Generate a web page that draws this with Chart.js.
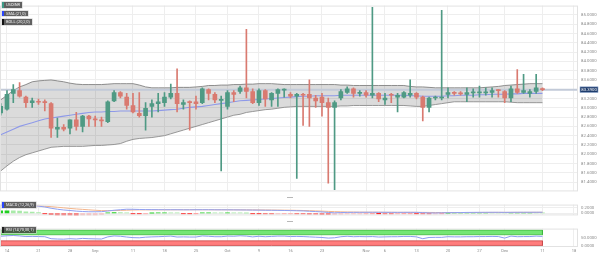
<!DOCTYPE html>
<html>
<head>
<meta charset="utf-8">
<script src="https://cdn.jsdelivr.net/npm/chart.js@4.4.0/dist/chart.umd.min.js"></script>
<style>
  html, body { margin: 0; padding: 0; background: #fff; }
  #wrap { position: relative; width: 600px; height: 254px; overflow: hidden; font-family: Roboto, "Liberation Sans", sans-serif; }
  canvas { position: absolute; left: 0; }
  .tag { position: absolute; left: 2px; height: 5.5px; line-height: 5.6px; font-size: 4px; color: #f0f0f0;
         background: rgba(62, 62, 62, 0.82); padding: 0 2px; border-left: 2px solid #444;
         box-shadow: 0 0 0 0.6px #d0d0d0; white-space: nowrap; }
  .grip { position: absolute; left: 287px; width: 6px; height: 1.4px; background: #b8b8b8; }
</style>
</head>
<body>
<div id="wrap">
  <canvas id="main" width="600" height="197" style="top:0"></canvas>
  <canvas id="macd" width="600" height="22" style="top:199px"></canvas>
  <canvas id="rsi" width="600" height="31" style="top:223px"></canvas>
  <div class="tag" style="top:2px;border-left-color:#3d9a86">USDINR</div>
  <div class="tag" style="top:10.5px;border-left-color:#2b46ff">SMA (21,0)</div>
  <div class="tag" style="top:19px;border-left-color:#111">BOLL (20,2,0)</div>
  <div class="tag" style="top:202px;border-left-color:#2b46ff">MACD (12,26,9)</div>
  <div class="tag" style="top:227px;border-left-color:#222">RSI (14,70,30,1)</div>
  <div class="grip" style="top:196.5px"></div>
  <div class="grip" style="top:221px"></div>
</div>
<script>
// daily candles, Aug 11 -> Dec 11 (index 0 = Aug 11)
const open = [82.89, 82.97, 83.31, 83.37, 83.23, 83.11, 83.13, 83.13, 83.09, 82.54,
  82.58, 82.56, 82.74, 82.60, 82.82, 82.76, 82.74, 82.70, 83.15, 83.33,
  83.23, 83.05, 82.88, 82.83, 83.03, 83.09, 83.11, 83.23, 83.31, 83.07,
  83.12, 83.13, 83.11, 83.39, 83.29, 83.16, 83.03, 83.33, 83.35, 83.43,
  83.35, 83.11, 83.37, 83.17, 83.31, 83.38, 83.29, 83.25, 83.29, 83.29,
  83.21, 83.23, 83.11, 83.01, 83.21, 83.33, 83.41, 83.31, 83.33, 83.27,
  83.31, 83.17, 83.29, 83.23, 83.23, 83.27, 83.31, 83.23, 83.01, 83.21,
  83.21, 83.29, 83.33, 83.32, 83.29, 83.32, 83.32, 83.32, 83.33, 83.38,
  83.35, 83.21, 83.41, 83.33, 83.31, 83.35, 83.41];
const high = [83.09, 83.37, 83.50, 83.54, 83.25, 83.21, 83.19, 83.17, 83.11, 82.78,
  82.64, 82.74, 82.90, 82.84, 82.84, 82.82, 82.80, 83.15, 83.37, 83.35,
  83.31, 83.31, 83.33, 83.11, 83.17, 83.31, 83.33, 83.51, 83.84, 83.17,
  83.15, 83.25, 83.43, 83.41, 83.33, 83.25, 83.37, 83.37, 83.47, 84.69,
  83.41, 83.41, 83.39, 83.33, 83.41, 83.41, 83.33, 83.31, 83.31, 83.60,
  83.27, 83.31, 83.21, 83.15, 83.39, 83.45, 83.43, 83.37, 83.37, 85.16,
  83.33, 83.31, 83.31, 83.31, 83.35, 83.60, 83.33, 83.25, 83.23, 83.25,
  85.10, 83.43, 83.35, 83.35, 83.43, 83.41, 83.47, 83.43, 83.43, 83.39,
  83.37, 83.47, 83.82, 83.72, 83.39, 83.72, 83.43];
const low = [82.84, 82.95, 83.11, 83.23, 83.01, 83.01, 83.07, 82.93, 82.36, 82.36,
  82.50, 82.44, 82.52, 82.48, 82.60, 82.60, 82.60, 82.68, 83.13, 83.21,
  82.97, 82.89, 82.80, 82.52, 82.80, 82.91, 83.03, 83.19, 82.91, 82.97,
  82.52, 82.97, 83.09, 83.17, 83.11, 81.64, 82.97, 83.13, 83.31, 83.21,
  83.09, 83.05, 83.03, 83.03, 83.03, 83.23, 83.21, 81.48, 82.62, 82.60,
  83.01, 82.82, 81.38, 81.24, 83.17, 83.31, 83.23, 83.25, 83.23, 83.21,
  83.13, 83.07, 83.11, 82.91, 83.21, 83.23, 83.19, 82.72, 82.91, 83.17,
  83.17, 83.21, 83.27, 83.27, 83.13, 83.23, 83.23, 83.27, 83.23, 83.23,
  83.11, 83.13, 83.31, 83.31, 83.23, 83.31, 83.37];
const close = [83.03, 83.29, 83.39, 83.25, 83.11, 83.15, 83.12, 83.11, 82.56, 82.58,
  82.54, 82.74, 82.60, 82.82, 82.76, 82.74, 82.72, 83.13, 83.33, 83.25,
  83.05, 82.91, 82.83, 82.99, 83.09, 83.13, 83.23, 83.31, 83.09, 83.11,
  83.11, 83.09, 83.41, 83.31, 83.17, 83.18, 83.33, 83.29, 83.43, 83.35,
  83.11, 83.37, 83.19, 83.31, 83.39, 83.39, 83.25, 83.29, 83.27, 83.21,
  83.15, 83.11, 83.01, 83.11, 83.35, 83.41, 83.31, 83.33, 83.27, 83.31,
  83.19, 83.21, 83.27, 83.27, 83.33, 83.31, 83.23, 83.01, 83.21, 83.23,
  83.23, 83.33, 83.31, 83.30, 83.33, 83.33, 83.33, 83.34, 83.37, 83.37,
  83.21, 83.41, 83.33, 83.37, 83.35, 83.43, 83.39];

const sma21 = [82.42, 82.48, 82.54, 82.60, 82.64, 82.68, 82.72, 82.76, 82.78, 82.80,
  82.82, 82.84, 82.86, 82.88, 82.90, 82.91, 82.91, 82.92, 82.92, 82.93,
  82.93, 82.93, 82.93, 82.93, 82.93, 82.94, 82.95, 82.96, 82.97, 82.99,
  83.01, 83.02, 83.03, 83.05, 83.07, 83.09, 83.11, 83.13, 83.15, 83.16,
  83.17, 83.18, 83.19, 83.20, 83.21, 83.22, 83.23, 83.24, 83.25, 83.25,
  83.26, 83.26, 83.26, 83.26, 83.27, 83.27, 83.27, 83.27, 83.27, 83.27,
  83.27, 83.27, 83.27, 83.27, 83.27, 83.26, 83.26, 83.25, 83.25, 83.25,
  83.25, 83.26, 83.26, 83.27, 83.27, 83.27, 83.28, 83.28, 83.29, 83.29,
  83.29, 83.30, 83.30, 83.31, 83.31, 83.31, 83.31];
const bollUpper = [83.17, 83.27, 83.37, 83.45, 83.50, 83.56, 83.58, 83.59, 83.60, 83.58,
  83.56, 83.53, 83.51, 83.50, 83.50, 83.50, 83.50, 83.51, 83.52, 83.52,
  83.52, 83.52, 83.49, 83.45, 83.43, 83.43, 83.43, 83.43, 83.44, 83.44,
  83.44, 83.45, 83.46, 83.48, 83.48, 83.49, 83.49, 83.50, 83.50, 83.51,
  83.51, 83.52, 83.52, 83.52, 83.51, 83.50, 83.50, 83.50, 83.50, 83.50,
  83.50, 83.50, 83.50, 83.50, 83.49, 83.49, 83.48, 83.48, 83.48, 83.48,
  83.48, 83.48, 83.48, 83.48, 83.48, 83.46, 83.45, 83.45, 83.44, 83.43,
  83.43, 83.43, 83.43, 83.43, 83.43, 83.43, 83.43, 83.44, 83.45, 83.46,
  83.48, 83.49, 83.50, 83.51, 83.52, 83.52, 83.52];
const bollLower = [81.64, 81.75, 81.85, 81.93, 81.99, 82.03, 82.07, 82.11, 82.15, 82.16,
  82.17, 82.17, 82.17, 82.17, 82.18, 82.19, 82.19, 82.20, 82.21, 82.23,
  82.28, 82.32, 82.34, 82.35, 82.36, 82.38, 82.40, 82.44, 82.48, 82.52,
  82.56, 82.60, 82.64, 82.68, 82.72, 82.76, 82.80, 82.84, 82.86, 82.90,
  82.92, 82.94, 82.96, 82.97, 82.99, 83.01, 83.02, 83.03, 83.03, 83.03,
  83.03, 83.03, 83.03, 83.03, 83.04, 83.04, 83.05, 83.05, 83.05, 83.05,
  83.05, 83.05, 83.05, 83.05, 83.05, 83.04, 83.03, 83.03, 83.05, 83.07,
  83.09, 83.11, 83.13, 83.13, 83.13, 83.13, 83.13, 83.13, 83.13, 83.13,
  83.13, 83.12, 83.11, 83.11, 83.11, 83.11, 83.11];

const macdLine = [0.290, 0.287, 0.284, 0.280, 0.276, 0.273, 0.255, 0.225, 0.180, 0.145,
  0.118, 0.100, 0.078, 0.064, 0.055, 0.055, 0.058, 0.082, 0.109, 0.127,
  0.145, 0.142, 0.136, 0.133, 0.131, 0.129, 0.127, 0.127, 0.127, 0.125,
  0.125, 0.127, 0.127, 0.127, 0.125, 0.124, 0.124, 0.122, 0.120, 0.118,
  0.115, 0.113, 0.109, 0.107, 0.104, 0.100, 0.096, 0.091, 0.085, 0.073,
  0.062, 0.049, 0.031, 0.018, 0.027, 0.031, 0.034, 0.035, 0.036, 0.037,
  0.036, 0.035, 0.034, 0.033, 0.034, 0.035, 0.033, 0.025, 0.015, 0.013,
  0.018, 0.022, 0.025, 0.027, 0.031, 0.033, 0.034, 0.035, 0.036, 0.036,
  0.033, 0.035, 0.036, 0.037, 0.037, 0.038, 0.038];
const signalLine = [0.290, 0.289, 0.287, 0.285, 0.284, 0.278, 0.264, 0.249, 0.236, 0.215,
  0.195, 0.173, 0.155, 0.140, 0.124, 0.109, 0.096, 0.095, 0.096, 0.102,
  0.109, 0.118, 0.122, 0.122, 0.123, 0.124, 0.125, 0.125, 0.126, 0.126,
  0.126, 0.127, 0.127, 0.127, 0.126, 0.126, 0.125, 0.124, 0.123, 0.122,
  0.121, 0.120, 0.118, 0.116, 0.114, 0.112, 0.109, 0.105, 0.100, 0.094,
  0.086, 0.077, 0.068, 0.060, 0.053, 0.048, 0.045, 0.042, 0.040, 0.039,
  0.038, 0.037, 0.036, 0.035, 0.035, 0.035, 0.035, 0.033, 0.031, 0.029,
  0.027, 0.027, 0.027, 0.027, 0.028, 0.029, 0.030, 0.031, 0.032, 0.033,
  0.033, 0.033, 0.034, 0.034, 0.035, 0.035, 0.036];
const macdHist = [0.090, 0.090, 0.085, 0.080, 0.050, 0.045, 0.030, -0.010, -0.050, -0.065,
  -0.070, -0.070, -0.072, -0.070, -0.068, -0.065, -0.040, 0.020, 0.028, 0.025,
  0.020, -0.008, -0.012, -0.010, 0.008, 0.012, 0.015, 0.012, 0.010, -0.008,
  -0.010, -0.005, 0.010, 0.015, 0.012, 0.010, 0.015, 0.012, 0.010, 0.008,
  -0.010, -0.012, -0.015, -0.018, -0.015, -0.012, -0.010, -0.020, -0.025, -0.030,
  -0.035, -0.040, -0.042, -0.040, -0.030, -0.025, -0.020, -0.015, -0.008, -0.005,
  -0.005, -0.015, -0.018, -0.012, -0.005, -0.004, -0.006, -0.020, -0.025, -0.015,
  -0.005, 0.005, 0.010, 0.012, 0.014, 0.015, 0.016, 0.016, 0.015, 0.014,
  0.012, 0.012, 0.013, 0.014, 0.015, 0.014, 0.013];

const rsi14 = [60, 63, 65, 62, 58, 59, 58, 57, 44, 42,
  41, 44, 42, 46, 44, 43, 42, 56, 62, 60,
  55, 51, 50, 54, 56, 57, 59, 61, 55, 56,
  55, 55, 62, 60, 57, 57, 61, 60, 63, 61,
  56, 60, 57, 59, 61, 61, 58, 59, 58, 56,
  54, 52, 48, 50, 57, 60, 57, 58, 57, 58,
  55, 56, 57, 57, 59, 59, 56, 44, 52, 53,
  53, 57, 56, 56, 57, 57, 58, 58, 59, 58,
  48, 61, 57, 58, 58, 61, 59];
const rsiOverbought = [70, 100];
const rsiOversold = [0, 30];

// tick labels (weekly, month names on first trading day)
const tickPos = [1, 6, 11, 15, 21, 26, 31, 36, 41, 46, 51, 58, 61, 66, 71, 76, 80, 86, 91];
const tickText = ['14', '21', '28', 'Sep', '11', '18', '25', 'Oct', '9', '16', '23', 'Nov', '6', '13', '20', '27', 'Dec', '11', '18'];
const priceTicks = [81.4, 81.6, 81.8, 82.0, 82.2, 82.4, 82.6, 82.8, 83.0, 83.2, 83.4, 83.6, 83.8, 84.0, 84.2, 84.4, 84.6, 84.8, 85.0];
const macdTicks = [0, 0.2];
const rsiTicks = [0, 50];

const UP = '#4f9a84';
const DOWN = '#d97a70';
const GRID = '#eeeeee';
const X_MIN = -0.11;
const X_MAX = 91.64;
const AXIS_W = 22;

Chart.defaults.font.family = 'Roboto, "Liberation Sans", sans-serif';
Chart.defaults.animation = false;

const pts = (arr) => arr.map((v, i) => ({ x: i, y: v }));
const lastIdx = close.length - 1;
const lastClose = close[lastIdx];
const candleColors = close.map((c, i) => (c >= open[i] ? UP : DOWN));

// light frame round each panel
const frame = {
  id: 'frame',
  afterDraw(chart) {
    const { ctx, chartArea: a } = chart;
    ctx.save();
    ctx.strokeStyle = '#e2e2e2';
    ctx.lineWidth = 1;
    ctx.strokeRect(a.left + 0.5, a.top + 0.5, a.right - a.left - 1, a.bottom - a.top - 1);
    ctx.restore();
  }
};

// current price tag on the right axis
const priceTag = {
  id: 'priceTag',
  afterDraw(chart) {
    const { ctx, chartArea: a } = chart;
    const y = chart.scales.y.getPixelForValue(lastClose);
    ctx.save();
    ctx.fillStyle = '#1e3c6c';
    ctx.strokeStyle = '#8aa3cc';
    ctx.lineWidth = 0.6;
    ctx.fillRect(a.right + 2, y - 2.8, 18, 5.6);
    ctx.strokeRect(a.right + 2, y - 2.8, 18, 5.6);
    ctx.fillStyle = '#ffffff';
    ctx.font = '4.3px Roboto, "Liberation Sans", sans-serif';
    ctx.textBaseline = 'middle';
    ctx.fillText(lastClose.toFixed(4), a.right + 3.3, y + 0.2);
    ctx.restore();
  }
};

function xScale(showLabels) {
  return {
    type: 'linear',
    min: X_MIN,
    max: X_MAX,
    offset: false,
    grid: { color: GRID, offset: false, drawTicks: false },
    border: { display: false },
    ticks: {
      display: showLabels,
      autoSkip: false,
      maxRotation: 0,
      padding: 2,
      font: { size: 4 },
      color: '#8a8a8a',
      callback: (v) => tickText[tickPos.indexOf(v)]
    },
    afterBuildTicks: (s) => { s.ticks = tickPos.map((v) => ({ value: v })); },
    afterFit: (s) => { s.height = showLabels ? 7 : 0; }
  };
}

function yScale(min, max, ticks, gridOn) {
  return {
    position: 'right',
    min,
    max,
    grid: { color: gridOn ? GRID : 'rgba(0,0,0,0)', drawTicks: false },
    border: { display: false },
    ticks: {
      autoSkip: false,
      padding: 3,
      font: { size: 4.3 },
      color: '#8a8a8a',
      callback: (v) => v.toFixed(4)
    },
    afterBuildTicks: (s) => { s.ticks = ticks.map((v) => ({ value: v })); },
    afterFit: (s) => { s.width = AXIS_W; }
  };
}

const baseOptions = {
  responsive: false,
  layout: { padding: 0 },
  plugins: { legend: { display: false }, tooltip: { enabled: false } }
};

// main price panel
new Chart(document.getElementById('main'), {
  type: 'bar',
  data: {
    datasets: [
      {
        type: 'bar', label: 'body', order: 0, grouped: false,
        data: open.map((o, i) => ({ x: i, y: [o, close[i]] })),
        backgroundColor: candleColors, borderWidth: 0,
        barPercentage: 1, categoryPercentage: 1, maxBarThickness: 4, minBarLength: 1
      },
      {
        type: 'bar', label: 'wick', order: 1, grouped: false,
        data: low.map((l, i) => ({ x: i, y: [l, high[i]] })),
        backgroundColor: candleColors, borderWidth: 0,
        barPercentage: 1, categoryPercentage: 1, maxBarThickness: 1
      },
      {
        type: 'line', label: 'price', order: 2,
        data: [{ x: X_MIN, y: lastClose }, { x: X_MAX, y: lastClose }],
        borderColor: '#c2cad8', borderWidth: 2, pointRadius: 0
      },
      {
        type: 'line', label: 'SMA (21,0)', order: 3,
        data: pts(sma21), borderColor: '#8e99e8', borderWidth: 1.1, pointRadius: 0
      },
      {
        type: 'line', label: 'lower', order: 4,
        data: pts(bollLower), borderColor: '#8c8c8c', borderWidth: 0.9, pointRadius: 0,
        fill: '+1', backgroundColor: 'rgba(0,0,0,0.14)'
      },
      {
        type: 'line', label: 'upper', order: 5,
        data: pts(bollUpper), borderColor: '#8c8c8c', borderWidth: 0.9, pointRadius: 0
      }
    ]
  },
  options: {
    ...baseOptions,
    scales: { x: xScale(false), y: yScale(81.2, 85.2, priceTicks, true) }
  },
  plugins: [frame, priceTag]
});

// MACD panel
const histColors = macdHist.map((v, i) => {
  const prev = i > 0 ? macdHist[i - 1] : v;
  if (v >= 0) return v >= prev ? '#22cf22' : '#a9eaa9';
  return v <= prev ? '#ff2222' : '#ffa6a6';
});

new Chart(document.getElementById('macd'), {
  type: 'bar',
  data: {
    datasets: [
      {
        type: 'line', label: 'MACD', order: 0,
        data: pts(macdLine), borderColor: '#8fa0f2', borderWidth: 1, pointRadius: 0
      },
      {
        type: 'line', label: 'signal', order: 1,
        data: pts(signalLine), borderColor: '#f3b58c', borderWidth: 1, pointRadius: 0
      },
      {
        type: 'bar', label: 'hist', order: 2, grouped: false,
        data: pts(macdHist), backgroundColor: histColors, borderWidth: 0,
        barPercentage: 1, categoryPercentage: 1, maxBarThickness: 4
      }
    ]
  },
  options: {
    ...baseOptions,
    scales: { x: xScale(false), y: yScale(-0.075, 0.31, macdTicks, true) }
  },
  plugins: [frame]
});

// RSI panel with the date axis
const x0 = 0;
const x1 = lastIdx;
const band = (lv) => [
  { x: x0, y: lv[0] }, { x: x0, y: lv[1] }, { x: x1, y: lv[1] }, { x: x1, y: lv[0] }, { x: x0, y: lv[0] }
];

new Chart(document.getElementById('rsi'), {
  type: 'line',
  data: {
    datasets: [
      {
        label: 'RSI', order: 0,
        data: pts(rsi14), borderColor: '#8b9cf0', borderWidth: 1, pointRadius: 0
      },
      {
        label: 'overbought', order: 1,
        data: band(rsiOverbought), borderColor: '#3eb83e', borderWidth: 0.8, pointRadius: 0,
        fill: 'shape', backgroundColor: '#74e674'
      },
      {
        label: 'oversold', order: 2,
        data: band(rsiOversold), borderColor: '#c94a4a', borderWidth: 0.8, pointRadius: 0,
        fill: 'shape', backgroundColor: '#ff7d7d'
      }
    ]
  },
  options: {
    ...baseOptions,
    scales: { x: xScale(true), y: yScale(-10, 110, rsiTicks, false) }
  },
  plugins: [frame]
});
</script>
</body>
</html>
